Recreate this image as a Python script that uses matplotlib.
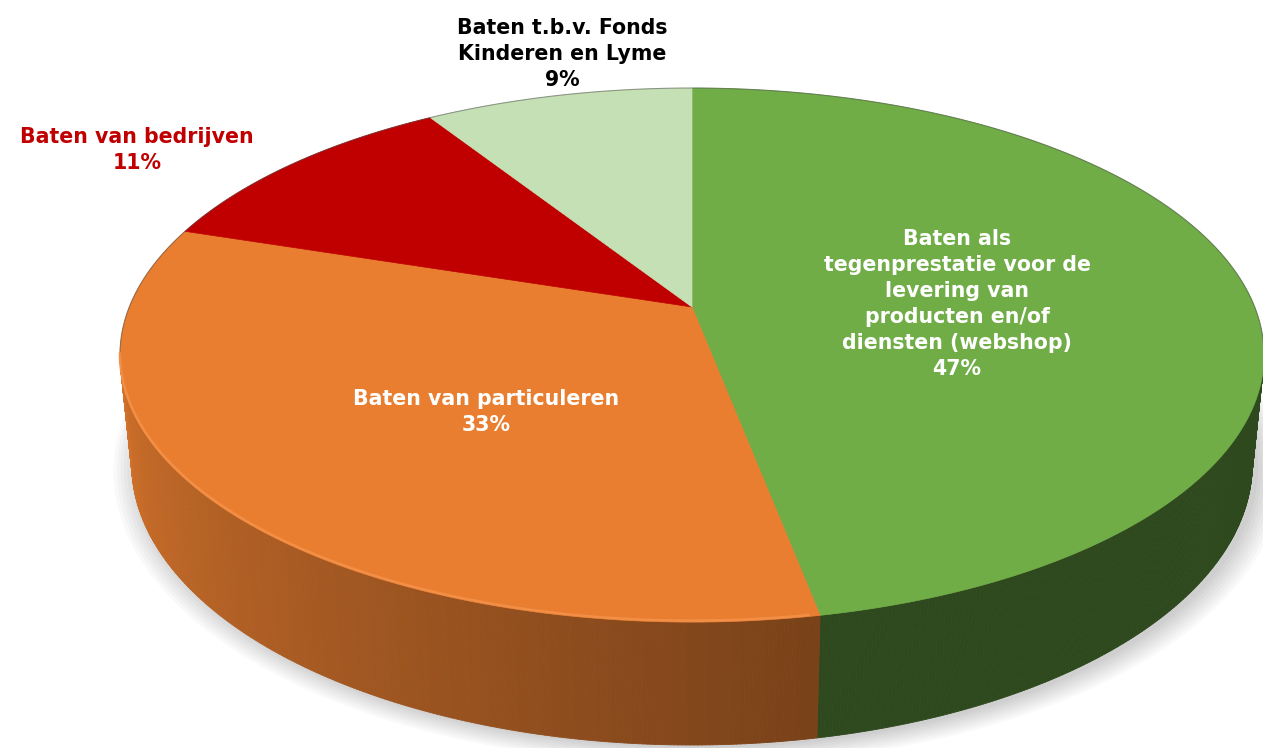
import numpy as np
import matplotlib.pyplot as plt
from matplotlib.collections import PolyCollection
from matplotlib.patches import Polygon
from matplotlib.colors import to_rgb

# data
labels = ["Baten als\ntegenprestatie voor de\nlevering van\nproducten en/of\ndiensten (webshop)",
          "Baten van particuleren",
          "Baten van bedrijven",
          "Baten t.b.v. Fonds\nKinderen en Lyme"]
shares = [47, 33, 11, 9]

# styles
top_colors = ['#70AD47', '#E97E30', '#C00000', '#C5E0B4']
label_colors = ['white', 'white', '#C00000', 'black']
label_xy = [(957, 304), (486, 412), (137, 150), (562, 54)]
side_shade = [(0.42, 0.42), (0.52, 0.90), (0.5, 0.5), (0.5, 0.5)]

# camera for the perspective view (pixels)
CX, CY = 692, 307
D, F, H = 4.935, 2777.0, 0.2195
sphi, cphi = 0.4592, 0.8883


def proj(u, v, z):
    depth = D + v * cphi - z * sphi
    x = CX + F * u / depth
    y = CY - F * (v * sphi + z * cphi) / depth
    return x, y


def ring(theta, z, r=1.0):
    t = np.radians(theta)
    return proj(r * np.sin(t), r * np.cos(t), z)


fig = plt.figure(figsize=(12.63, 7.48), dpi=100)
ax = fig.add_axes([0, 0, 1, 1])
ax.set_xlim(0, 1263)
ax.set_ylim(748, 0)
ax.axis('off')

# soft shadow under the pie
full = np.linspace(0, 360, 361)
for i in range(8):
    xs, ys = ring(full, -H, 1.0 + 0.006 * i)
    ax.add_patch(Polygon(np.column_stack([xs + 6, ys + 3]), closed=True,
                         facecolor='black', edgecolor='none', alpha=0.022, zorder=1))

total = sum(shares)
bounds = np.concatenate([[0], np.cumsum(shares)]) / total * 360
k = cphi / D
vis_lo = 90 + np.degrees(np.arcsin(k))
vis_hi = 270 - np.degrees(np.arcsin(k))

# side walls
for i in range(len(shares)):
    a0, a1 = max(bounds[i], vis_lo), min(bounds[i + 1], vis_hi)
    if a0 >= a1:
        continue
    ts = np.linspace(a0, a1, int((a1 - a0) * 3) + 2)
    xt, yt = ring(ts, 0)
    xb, yb = ring(ts, -H)
    quads, cols = [], []
    base = np.array(to_rgb(top_colors[i]))
    f0, f1 = side_shade[i]
    for j in range(len(ts) - 1):
        quads.append([(xt[j], yt[j]), (xt[j + 1], yt[j + 1]), (xb[j + 1], yb[j + 1]), (xb[j], yb[j])])
        frac = (ts[j] - a0) / (a1 - a0)
        cols.append(np.clip(base * (f0 + (f1 - f0) * frac), 0, 1))
    ax.add_collection(PolyCollection(quads, facecolors=cols, edgecolors=cols, linewidths=0.6, zorder=2))

# top face
for i in range(len(shares)):
    ts = np.linspace(bounds[i], bounds[i + 1], int(shares[i] * 8) + 2)
    xs, ys = ring(ts, 0)
    pts = np.column_stack([np.r_[CX, xs], np.r_[CY, ys]])
    ax.add_patch(Polygon(pts, closed=True, facecolor=top_colors[i], edgecolor=top_colors[i],
                         linewidth=0.5, zorder=3))

# thin outline on the back rim, light bevel on the orange front rim
back = np.linspace(vis_hi, vis_lo + 360, 300)
xs, ys = ring(back, 0)
ax.plot(xs, ys, color='#4a4a4a', lw=0.8, alpha=0.5, zorder=4)
rim = np.linspace(bounds[1] + 1, vis_hi, 120)
xs, ys = ring(rim, 0)
ax.plot(xs, ys - 1.5, color='#F5924A', lw=1.8, alpha=0.85, zorder=4)

for lab, share, (tx, ty), c in zip(labels, shares, label_xy, label_colors):
    ax.text(tx, ty, f"{lab}\n{share}%", ha='center', va='center', color=c,
            fontsize=14.8, fontweight='bold', family='DejaVu Sans', linespacing=1.37, zorder=5)

fig.savefig('out.png', dpi=100)
